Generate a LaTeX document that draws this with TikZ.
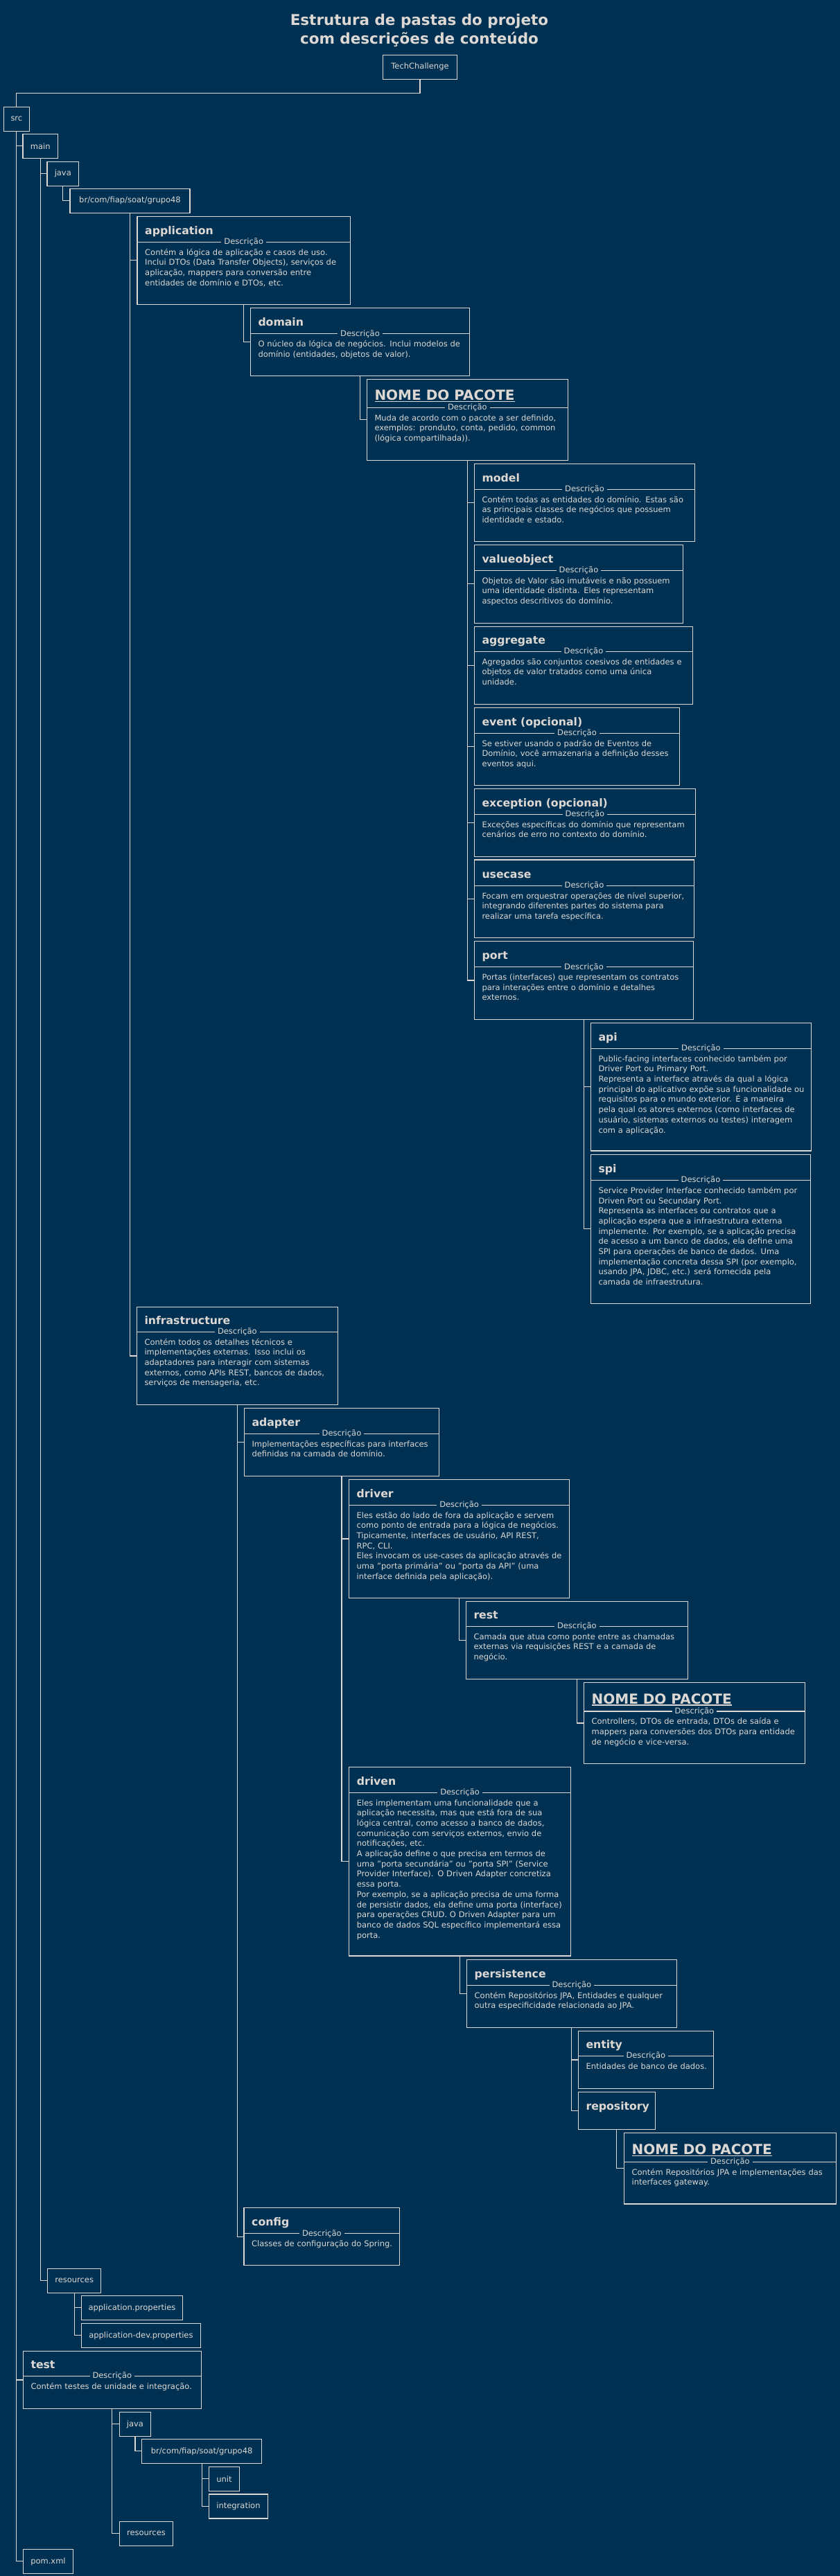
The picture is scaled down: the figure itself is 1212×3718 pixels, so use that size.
\documentclass[tikz,border=0pt]{standalone}
\usepackage{fontspec}
\setmainfont{DejaVu Sans}
\usepackage{tikz}
\definecolor{bg}{HTML}{003153}
\definecolor{ink}{HTML}{DDD8D3}

\tikzset{
	tree/.style={draw=ink,line width=1.1pt},
	folder/.style={draw=ink,line width=1.1pt,text=ink,anchor=north west,minimum height=35pt,inner xsep=0pt,outer sep=0pt,font=\fontsize{11.5}{14}\selectfont},
	dbox/.style={draw=ink,line width=1.1pt,anchor=north west,outer sep=0pt,inner sep=0pt},
	dtitle/.style={anchor=base west,inner sep=0pt,text=ink,font=\bfseries\fontsize{15.7}{18}\selectfont},
	dlabel/.style={fill=bg,text=ink,inner xsep=4pt,inner ysep=1pt,font=\fontsize{11.5}{14}\selectfont},
	dtext/.style={anchor=north west,inner sep=0pt,text=ink,align=left,text width=340pt,font=\fontsize{11.5}{14.7}\selectfont}
}

\newsavebox\pkgbox
\newcommand\pkgname[1]{{\fontsize{20}{24}\selectfont\sbox\pkgbox{#1}\usebox\pkgbox\llap{\rule[-2.8pt]{\wd\pkgbox}{1.4pt}}}}

% name, x, y, width, height, separator, title, text
\newcommand\descbox[8]{%
	\node[dbox,minimum width=#4pt,minimum height=#5pt] (#1) at (#2,#3) {};
	\path (#1.north west) ++(11,#6-11) node[dtitle] {#7};
	\draw[tree] (#1.north west) ++(0,#6) -- ++(#4,0) node[midway,dlabel] {Descrição};
	\path (#1.north west) ++(11,#6+8.5) node[dtext] {\noindent\rule{0pt}{10pt}#8};
}

\begin{document}
\begin{tikzpicture}[x=1pt,y=-1pt]
	\path[use as bounding box,fill=bg] (0,0) rectangle (1212,3718);

	\node[anchor=north,inner sep=0pt,align=center,text=ink,font=\bfseries\fontsize{21.5}{27}\selectfont] (title) at (605,19) {\rule{0pt}{17pt}Estrutura de pastas do projeto\\com descrições de conteúdo};

	\node[folder,minimum width=107pt] (tc) at (552.5,79.3) {TechChallenge};
	\node[folder,minimum width=37pt] (src) at (5.4,154.3) {src};
	\node[folder,minimum width=50.5pt] (main) at (33,193.3) {main};
	\node[folder,minimum width=45.6pt] (java) at (68,233.3) {java};
	\node[folder,minimum width=173pt] (br) at (101,272.3) {br/com/fiap/soat/grupo48};

	\descbox{app}{198}{312.3}{307.5}{127}{37}{application}{Contém a lógica de aplicação e casos de uso.\\Inclui DTOs (Data Transfer Objects), serviços de\\aplicação, mappers para conversão entre\\entidades de domínio e DTOs, etc.}
	\descbox{domain}{361.3}{444.3}{316.4}{98}{37.4}{domain}{O núcleo da lógica de negócios. Inclui modelos de\\domínio (entidades, objetos de valor).}
	\descbox{pkgA}{529.3}{547.3}{290}{117}{41}{\pkgname{NOME DO PACOTE}}{Muda de acordo com o pacote a ser definido,\\exemplos: pronduto, conta, pedido, common\\(lógica compartilhada)).}
	\descbox{model}{684.3}{669.3}{318.4}{112.4}{37}{model}{Contém todas as entidades do domínio. Estas são\\as principais classes de negócios que possuem\\identidade e estado.}
	\descbox{valueobject}{684.3}{786.3}{301.4}{113}{37}{valueobject}{Objetos de Valor são imutáveis e não possuem\\uma identidade distinta. Eles representam\\aspectos descritivos do domínio.}
	\descbox{aggregate}{684.3}{904.3}{315.4}{112.4}{36}{aggregate}{Agregados são conjuntos coesivos de entidades e\\objetos de valor tratados como uma única\\unidade.}
	\descbox{event}{684.3}{1021.3}{296.4}{112}{37}{event (opcional)}{Se estiver usando o padrão de Eventos de\\Domínio, você armazenaria a definição desses\\eventos aqui.}
	\descbox{exception}{684.3}{1138.3}{319}{98.4}{37}{exception (opcional)}{Exceções específicas do domínio que representam\\cenários de erro no contexto do domínio.}
	\descbox{usecase}{684.3}{1241}{317.4}{112.3}{37.3}{usecase}{Focam em orquestrar operações de nível superior,\\integrando diferentes partes do sistema para\\realizar uma tarefa específica.}
	\descbox{port}{684.3}{1358.3}{316.4}{113.4}{37.4}{port}{Portas (interfaces) que representam os contratos\\para interações entre o domínio e detalhes\\externos.}
	\descbox{api}{852.3}{1476.4}{318}{184.6}{37}{api}{Public-facing interfaces conhecido também por\\Driver Port ou Primary Port.\\Representa a interface através da qual a lógica\\principal do aplicativo expõe sua funcionalidade ou\\requisitos para o mundo exterior. É a maneira\\pela qual os atores externos (como interfaces de\\usuário, sistemas externos ou testes) interagem\\com a aplicação.}
	\descbox{spi}{852.3}{1666.5}{317.4}{214.8}{37.1}{spi}{Service Provider Interface conhecido também por\\Driven Port ou Secundary Port.\\Representa as interfaces ou contratos que a\\aplicação espera que a infraestrutura externa\\implemente. Por exemplo, se a aplicação precisa\\de acesso a um banco de dados, ela define uma\\SPI para operações de banco de dados. Uma\\implementação concreta dessa SPI (por exemplo,\\usando JPA, JDBC, etc.) será fornecida pela\\camada de infraestrutura.}

	\descbox{infra}{197.3}{1886.3}{290}{141.4}{36}{infrastructure}{Contém todos os detalhes técnicos e\\implementações externas. Isso inclui os\\adaptadores para interagir com sistemas\\externos, como APIs REST, bancos de dados,\\serviços de mensageria, etc.}
	\descbox{adapter}{352.3}{2032.3}{281.4}{98}{37}{adapter}{Implementações específicas para interfaces\\definidas na camada de domínio.}
	\descbox{driver}{503.5}{2135.7}{318.2}{170.6}{36.6}{driver}{Eles estão do lado de fora da aplicação e servem\\como ponto de entrada para a lógica de negócios.\\Tipicamente, interfaces de usuário, API REST,\\RPC, CLI.\\Eles invocam os use-cases da aplicação através de\\uma "porta primária" ou "porta da API" (uma\\interface definida pela aplicação).}
	\descbox{rest}{672.3}{2311.3}{320}{112}{36}{rest}{Camada que atua como ponte entre as chamadas\\externas via requisições REST e a camada de\\negócio.}
	\descbox{pkgB}{842.4}{2428.7}{319}{116.6}{41.3}{\pkgname{NOME DO PACOTE}}{Controllers, DTOs de entrada, DTOs de saída e\\mappers para conversões dos DTOs para entidade\\de negócio e vice-versa.}
	\descbox{driven}{503.6}{2550.3}{320}{272.7}{37}{driven}{Eles implementam uma funcionalidade que a\\aplicação necessita, mas que está fora de sua\\lógica central, como acesso a banco de dados,\\comunicação com serviços externos, envio de\\notificações, etc.\\A aplicação define o que precisa em termos de\\uma "porta secundária" ou "porta SPI" (Service\\Provider Interface). O Driven Adapter concretiza\\essa porta.\\Por exemplo, se a aplicação precisa de uma forma\\de persistir dados, ela define uma porta (interface)\\para operações CRUD. O Driven Adapter para um\\banco de dados SQL específico implementará essa\\porta.}
	\descbox{persistence}{673.5}{2828.7}{302.8}{97.6}{36.6}{persistence}{Contém Repositórios JPA, Entidades e qualquer\\outra especificidade relacionada ao JPA.}
	\descbox{entity}{834.3}{2931.7}{195}{82.6}{35.6}{entity}{Entidades de banco de dados.}
	\node[dbox,minimum width=111.2pt,minimum height=54pt] (repository) at (834.3,3019.3) {};
	\path (repository.north west) ++(11,26.5) node[dtitle] {repository};
	\descbox{pkgC}{900.4}{3078.3}{306}{102.7}{42}{\pkgname{NOME DO PACOTE}}{Contém Repositórios JPA e implementações das\\interfaces gateway.}
	\descbox{config}{352}{3186.8}{224.7}{82.5}{37}{config}{Classes de configuração do Spring.}

	\node[folder,minimum width=77.3pt] (res) at (68.5,3274.3) {resources};
	\node[folder,minimum width=146.6pt] (appprop) at (117.1,3313.3) {application.properties};
	\node[folder,minimum width=172.6pt] (devprop) at (117.1,3353.3) {application-dev.properties};
	\descbox{test}{33.3}{3393.3}{257.1}{83.4}{36}{test}{Contém testes de unidade e integração.}
	\node[folder,minimum width=45.5pt] (javaT) at (172.2,3481.3) {java};
	\node[folder,minimum width=173.2pt] (brT) at (204.5,3520.3) {br/com/fiap/soat/grupo48};
	\node[folder,minimum width=44.2pt] (unit) at (301.3,3560.3) {unit};
	\node[folder,minimum width=85.3pt] (integ) at (301.3,3600) {integration};
	\node[folder,minimum width=77.3pt] (resT) at (172.3,3639.3) {resources};
	\node[folder,minimum width=71.9pt] (pom) at (33.5,3679.3) {pom.xml};

	\draw[tree] (tc.south) -- ++(0,20) -| (src.north);
	\foreach \c in {main,test,pom} \draw[tree] (src.south) |- (\c.west);
	\foreach \c in {java,res} \draw[tree] (main.south) |- (\c.west);
	\draw[tree] (java.south) |- (br.west);
	\foreach \c in {app,infra} \draw[tree] (br.south) |- (\c.west);
	\draw[tree] (app.south) |- (domain.west);
	\draw[tree] (domain.south) |- (pkgA.west);
	\foreach \c in {model,valueobject,aggregate,event,exception,usecase,port} \draw[tree] (pkgA.south) |- (\c.west);
	\foreach \c in {api,spi} \draw[tree] (port.south) |- (\c.west);
	\foreach \c in {adapter,config} \draw[tree] (infra.south) |- (\c.west);
	\foreach \c in {driver,driven} \draw[tree] (adapter.south) |- (\c.west);
	\draw[tree] (driver.south) |- (rest.west);
	\draw[tree] (rest.south) |- (pkgB.west);
	\draw[tree] (driven.south) |- (persistence.west);
	\foreach \c in {entity,repository} \draw[tree] (persistence.south) |- (\c.west);
	\draw[tree] (repository.south) |- (pkgC.west);
	\foreach \c in {appprop,devprop} \draw[tree] (res.south) |- (\c.west);
	\foreach \c in {javaT,resT} \draw[tree] (test.south) |- (\c.west);
	\draw[tree] (javaT.south) |- (brT.west);
	\foreach \c in {unit,integ} \draw[tree] (brT.south) |- (\c.west);
\end{tikzpicture}
\end{document}
